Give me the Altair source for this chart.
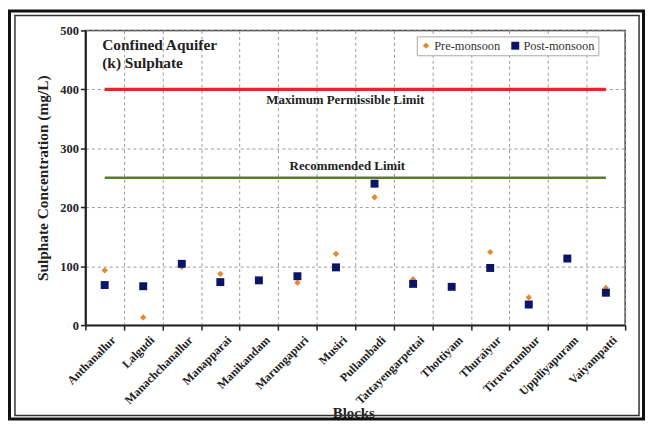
import altair as alt
import pandas as pd

blocks = ["Anthanallur", "Lalgudi", "Manachchanallur", "Manapparai", "Manikandam",
          "Marungapuri", "Musiri", "Pullambadi", "Tattayengarpettai", "Thottiyam",
          "Thuraiyur", "Tiruverumbur", "Uppiliyapuram", "Vaiyampatti"]
pre_monsoon = [93, 13, 99, 87, 77, 72, 121, 217, 78, 65, 124, 47, 114, 63]
post_monsoon = [68, 66, 104, 73, 76, 83, 98, 240, 70, 65, 97, 35, 113, 55]
seasons = ["Pre-monsoon", "Post-monsoon"]
limit_names = ["Maximum Permissible Limit", "Recommended Limit"]
limit_values = [400, 250]

W, H = 544, 297
PL, PT, PR, PB = 78, 21, 20, 96
FONT = "Liberation Serif, Times New Roman, Times, serif"

rows = []
for b, pv, qv in zip(blocks, pre_monsoon, post_monsoon):
    rows.append({"Block": b, "Season": seasons[0], "Value": pv})
    rows.append({"Block": b, "Season": seasons[1], "Value": qv})
df = pd.DataFrame(rows)

lim = pd.DataFrame({"name": limit_names, "value": limit_values,
                    "start": [blocks[0]] * 2, "end": [blocks[-1]] * 2})

xscale = alt.Scale(domain=blocks, paddingInner=0, paddingOuter=0)
yscale = alt.Scale(domain=[0, 500], nice=False)

xenc = alt.X("Block:N", scale=xscale, sort=blocks,
             axis=alt.Axis(title="Blocks", labelAngle=-45, labelFont=FONT,
                           labelFontWeight="bold", labelFontSize=12, labelColor="#222",
                           labelAlign="right", labelBaseline="top", labelPadding=4,
                           labelOffset=5,
                           tickBand="extent", tickSize=5, tickColor="#222", tickWidth=1.5,
                           grid=True, gridDash=[3, 3], gridColor="#999", gridWidth=1,
                           domainColor="#222", domainWidth=2,
                           titleFont=FONT, titleFontSize=15, titleFontWeight="bold",
                           titleColor="#222", titleX=270, titleY=88, titleBaseline="middle",
                           titleAnchor="middle"))
yenc = alt.Y("Value:Q", scale=yscale,
             axis=alt.Axis(title="Sulphate Concentration (mg/L)", values=[0, 100, 200, 300, 400, 500],
                           labelFont=FONT, labelFontWeight="bold", labelFontSize=12.5,
                           labelColor="#222", tickSize=5, tickColor="#222", tickWidth=1.5,
                           grid=True, gridDash=[3, 3], gridColor="#999", gridWidth=1,
                           domainColor="#222", domainWidth=2,
                           titleFont=FONT, titleFontSize=15.5, titleFontWeight="bold",
                           titleColor="#222", titlePadding=9))

color = alt.Color("Season:N", scale=alt.Scale(domain=seasons, range=["#E8862E", "#0B1466"]),
                  legend=alt.Legend(title=None, orient="none", legendX=334, legendY=6,
                                    direction="horizontal", labelFont=FONT, labelFontSize=12.5,
                                    labelColor="#333", strokeColor="#aaa", fillColor="white",
                                    padding=3, symbolSize=40, columnPadding=8, labelOffset=2,
                                    symbolStrokeWidth=0))
shape = alt.Shape("Season:N", scale=alt.Scale(domain=seasons, range=["diamond", "square"]))
size = alt.Size("Season:N", scale=alt.Scale(domain=seasons, range=[40, 64]), legend=None)

points = alt.Chart(df).mark_point(filled=True, opacity=1).encode(
    x=xenc, y=yenc, color=color, shape=shape, size=size,
    order=alt.Order("Season:N", sort="descending"))

max_rule = alt.Chart(lim.iloc[:1]).mark_rule(color="#E0282E", strokeWidth=3.5).encode(
    x=alt.X("start:N", scale=xscale, sort=blocks), x2="end:N",
    y=alt.Y("value:Q", scale=yscale))
rec_rule = alt.Chart(lim.iloc[1:]).mark_rule(color="#5E7A32", strokeWidth=2.5).encode(
    x=alt.X("start:N", scale=xscale, sort=blocks), x2="end:N",
    y=alt.Y("value:Q", scale=yscale))

max_text = alt.Chart(lim.iloc[:1]).mark_text(font=FONT, fontWeight="bold", fontSize=13,
                                             color="#222", dy=11).encode(
    x=alt.value(262), y=alt.Y("value:Q", scale=yscale), text="name:N")
rec_text = alt.Chart(lim.iloc[1:]).mark_text(font=FONT, fontWeight="bold", fontSize=13,
                                             color="#222", dy=-12).encode(
    x=alt.value(264), y=alt.Y("value:Q", scale=yscale), text="name:N")

title_df = pd.DataFrame({"t": [["Confined Aquifer", "(k) Sulphate"]]})
ann = alt.Chart(title_df).mark_text(font=FONT, fontWeight="bold", fontSize=15.5, color="#222",
                                     align="left", baseline="top", lineHeight=18).encode(
    text="t", x=alt.value(17), y=alt.value(8))

frame_df = pd.DataFrame({"k": ["outer", "inner"]})
outer = alt.Chart(frame_df.iloc[:1]).mark_rect(filled=False, stroke="#111", strokeWidth=3, clip=False).encode(
    x=alt.value(-PL + 1.5), x2=alt.value(W + PR - 1.5),
    y=alt.value(-PT + 1.5), y2=alt.value(H + PB - 1.5))
inner = alt.Chart(frame_df.iloc[1:]).mark_rect(filled=False, stroke="#333", strokeWidth=1.5, clip=False).encode(
    x=alt.value(-PL + 7), x2=alt.value(W + PR - 6),
    y=alt.value(-PT + 6), y2=alt.value(H + PB - 5))

chart = alt.layer(max_rule, rec_rule, max_text, rec_text, ann, points, outer, inner).properties(
    width=W, height=H,
    autosize=alt.AutoSizeParams(type="none"),
    padding={"left": PL, "top": PT, "right": PR, "bottom": PB},
    background="white",
).configure_view(stroke="#444", strokeWidth=1.5)

chart.save("out.html", embed_options={"renderer": "svg", "actions": False})
